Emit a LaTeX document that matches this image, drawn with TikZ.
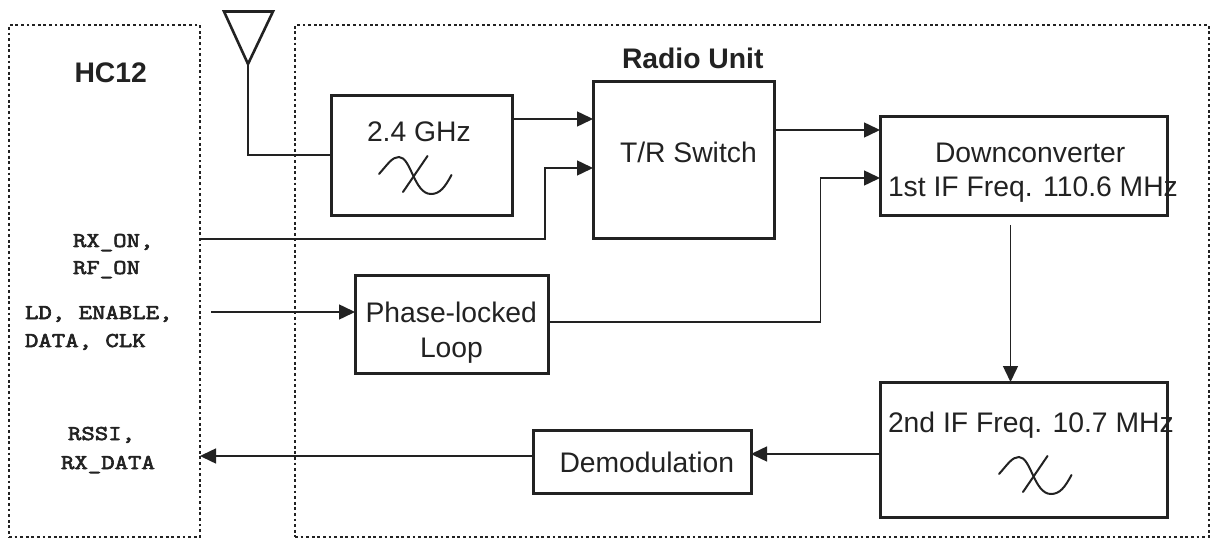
\documentclass[tikz,border=0pt]{standalone}
\usepackage{fontspec}
\setmainfont{Liberation Sans}
\newfontfamily\mymono{Latin Modern Mono}[FakeStretch=1.24,FakeBold=3]
\usetikzlibrary{arrows.meta}
\definecolor{ink}{HTML}{222222}
\tikzset{
  x=1pt,y=-1pt,
  every node/.style={inner sep=0pt,outer sep=0pt,text=ink},
  dotbox/.style={draw=ink,line width=2.8pt,dash pattern=on 2.8pt off 2.8pt,anchor=north west},
  block/.style={draw=ink,line width=3pt,rectangle,anchor=north west},
  conn/.style={draw=ink,line width=1.5pt,-{Triangle[length=16pt,width=15pt]}},
  antconn/.style={draw=ink,line width=2.6pt},
  lbl/.style={anchor=base west,font=\fontsize{28.3}{30}\selectfont},
  blbl/.style={anchor=base west,font=\fontsize{28.3}{30}\selectfont\bfseries},
  sig/.style={anchor=base west,font=\fontsize{21}{24}\selectfont\mymono},
  filt/.style={draw=ink,line width=2pt,line cap=round}
}
\newcommand{\filtersym}[2]{%
  \begin{scope}[shift={(#1,#2)}]
    \draw[filt] (379,174) .. controls (388,164) and (392,157) .. (399,157)
      .. controls (411,157) and (414,194) .. (431,194)
      .. controls (440,194) and (445,187) .. (451.5,175);
    \draw[filt] (427.5,156) -- (403,192);
  \end{scope}}
\begin{document}
\begin{tikzpicture}
\useasboundingbox (0,0) rectangle (1210,540);
% dotted enclosures
\node[dotbox,minimum width=191pt,minimum height=512pt] (hc) at (9,25) {};
\node[dotbox,minimum width=914pt,minimum height=512pt] (radio) at (295,25) {};
% antenna
\coordinate (antpt) at (248,64);
\draw[draw=ink,line width=2.6pt,line join=miter] (224,11.5) -- (273,11.5) -- (antpt) -- cycle;
% blocks
\node[block,minimum width=181pt,minimum height=120pt] (rf) at (331.5,96) {};
\node[block,minimum width=181pt,minimum height=157pt] (tr) at (593,82) {};
\node[block,minimum width=287pt,minimum height=99pt] (down) at (880,117) {};
\node[block,minimum width=193pt,minimum height=98pt] (pll) at (355,275) {};
\node[block,minimum width=287pt,minimum height=135pt] (ifb) at (880,382) {};
\node[block,minimum width=218pt,minimum height=63pt] (dem) at (533,430) {};
% labels
\node[blbl] (t1) at (74.5,83) {HC12};
\node[blbl] (t2) at (622,69) {Radio Unit};
\node[lbl] (t3) at (367,141.5) {2.4 GHz};
\node[lbl] (t4) at (620,163) {T/R Switch};
\node[lbl] (t5) at (935,163) {Downconverter};
\node[lbl] (t6) at (888,197) {1st IF Freq. 110.6 MHz};
\node[lbl] (t7) at (365.5,322) {Phase-locked};
\node[lbl] (t8) at (420,357) {Loop};
\node[lbl] (t9) at (559.5,472) {Demodulation};
\node[lbl] (t10) at (888,432.5) {2nd IF Freq. 10.7 MHz};
\node[sig] (s1) at (73,247) {RX\_ON,};
\node[sig] (s2) at (73,274) {RF\_ON};
\node[sig] (s3) at (25,319) {LD, ENABLE,};
\node[sig] (s4) at (25,347) {DATA, CLK};
\node[sig] (s5) at (68,440) {RSSI,};
\node[sig] (s6) at (61,469) {RX\_DATA};
% filter symbols
\filtersym{0}{0}
\filtersym{620}{300}
% free ends
\coordinate (ldstart) at (211,312);
\coordinate (downstart) at (1010.5,225);
% connectors
\draw[antconn] (antpt) |- (rf.west |- 0,155);
\draw[conn] (rf.east |- 0,119) -- (tr.west |- 0,119);
\draw[conn] (hc.east |- 0,239) -- (545,239) |- (tr.west |- 0,168);
\draw[conn] (tr.east |- 0,130) -- (down.west |- 0,130);
\draw[conn] (pll.east |- 0,322) -- (820.5,322) |- (down.west |- 0,178);
\draw[conn] (ldstart) -- (pll.west |- ldstart);
\draw[conn] (downstart) -- (downstart |- ifb.north);
\draw[conn] (ifb.west |- 0,454) -- (dem.east |- 0,454);
\draw[conn] (dem.west |- 0,456) -- (hc.east |- 0,456);
\end{tikzpicture}
\end{document}
